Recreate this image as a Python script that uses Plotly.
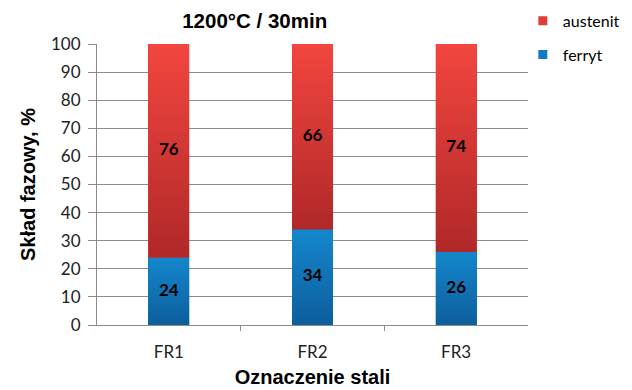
import plotly.graph_objects as go

categories = ["FR1", "FR2", "FR3"]
ferryt = [24, 34, 26]
austenit = [76, 66, 74]
y_ticks = [0, 10, 20, 30, 40, 50, 60, 70, 80, 90, 100]

BAR_W = 0.285
xs = list(range(len(categories)))

fig = go.Figure()

# base bars (solid fallback colour)
fig.add_trace(go.Bar(x=xs, y=ferryt, name="ferryt", width=BAR_W,
                     marker=dict(color="#1176BD", line=dict(width=0)), showlegend=False))
fig.add_trace(go.Bar(x=xs, y=austenit, name="austenit", width=BAR_W,
                     marker=dict(color="#D93A36", line=dict(width=0)), showlegend=False))

# gradient overlays computed from the data
def seg(i, base, top, colors):
    x0, x1 = i - BAR_W / 2, i + BAR_W / 2
    fig.add_trace(go.Scatter(
        x=[x0, x1, x1, x0, x0], y=[base, base, top, top, base],
        mode="lines", line=dict(width=0), fill="toself",
        fillgradient=dict(type="vertical", colorscale=colors),
        showlegend=False, hoverinfo="skip"))

for i in xs:
    seg(i, 0, ferryt[i], [[0, "#0D5E9C"], [1, "#1487CC"]])
    seg(i, ferryt[i], ferryt[i] + austenit[i], [[0, "#B02828"], [1, "#F2463F"]])

# value labels
lab_font = dict(family="Lato", size=17, color="black", weight="bold")
fig.add_trace(go.Scatter(x=xs, y=[f / 2 for f in ferryt], text=[str(v) for v in ferryt],
                         mode="text", textfont=lab_font, showlegend=False, hoverinfo="skip"))
fig.add_trace(go.Scatter(x=xs, y=[f + a / 2 for f, a in zip(ferryt, austenit)],
                         text=[str(v) for v in austenit],
                         mode="text", textfont=lab_font, showlegend=False, hoverinfo="skip"))

# legend entries (small square swatches)
fig.add_trace(go.Scatter(x=[None], y=[None], mode="markers", name="austenit",
                         marker=dict(symbol="square", size=9, color="#E03C38"),
                         legendgroup="a", legendrank=1))
fig.add_trace(go.Scatter(x=[None], y=[None], mode="markers", name="ferryt",
                         marker=dict(symbol="square", size=9, color="#1278C0"),
                         legendgroup="f", legendrank=2))

fig.update_layout(
    width=632, height=390,
    barmode="stack",
    margin=dict(l=97, r=104, t=44, b=65, autoexpand=False),
    plot_bgcolor="white", paper_bgcolor="white",
    title=dict(text="<b>1200°C / 30min</b>", x=0.403, xanchor="center", y=0.946, yanchor="middle",
               font=dict(family="Liberation Sans", size=20.5, color="black")),
    legend=dict(x=0.988, xanchor="left", y=0.99, yref="container", yanchor="top",
                traceorder="grouped",
                tracegroupgap=10, font=dict(family="Lato", size=16, color="black"),
                itemwidth=30, bgcolor="rgba(0,0,0,0)"),
    showlegend=True,
)

fig.update_xaxes(
    range=[-0.5, 2.5], tickvals=xs, ticktext=categories, ticks="",
    showline=True, linecolor="#8C8C8C", linewidth=1,
    tickfont=dict(family="Lato", size=17, color="#222"), ticklabelstandoff=12,
    minor=dict(tickvals=[0.5, 1.5], ticks="outside", ticklen=5, tickcolor="#8C8C8C", showgrid=False),
    title=dict(text="<b>Oznaczenie stali</b>", font=dict(family="Liberation Sans", size=20, color="black"), standoff=8),
    showgrid=False, zeroline=False,
)
fig.update_yaxes(
    range=[0, 100], tickvals=y_ticks, ticks="outside", ticklen=8, tickcolor="#8C8C8C",
    showline=True, linecolor="#8C8C8C", linewidth=1,
    gridcolor="#8C8C8C", gridwidth=1, zeroline=False,
    tickfont=dict(family="Lato", size=17, color="#222"), ticklabelstandoff=4,
    title=dict(text="<b>Skład fazowy, %</b>", font=dict(family="Liberation Sans", size=20, color="black"), standoff=10),
)

fig.write_html("out.html")
